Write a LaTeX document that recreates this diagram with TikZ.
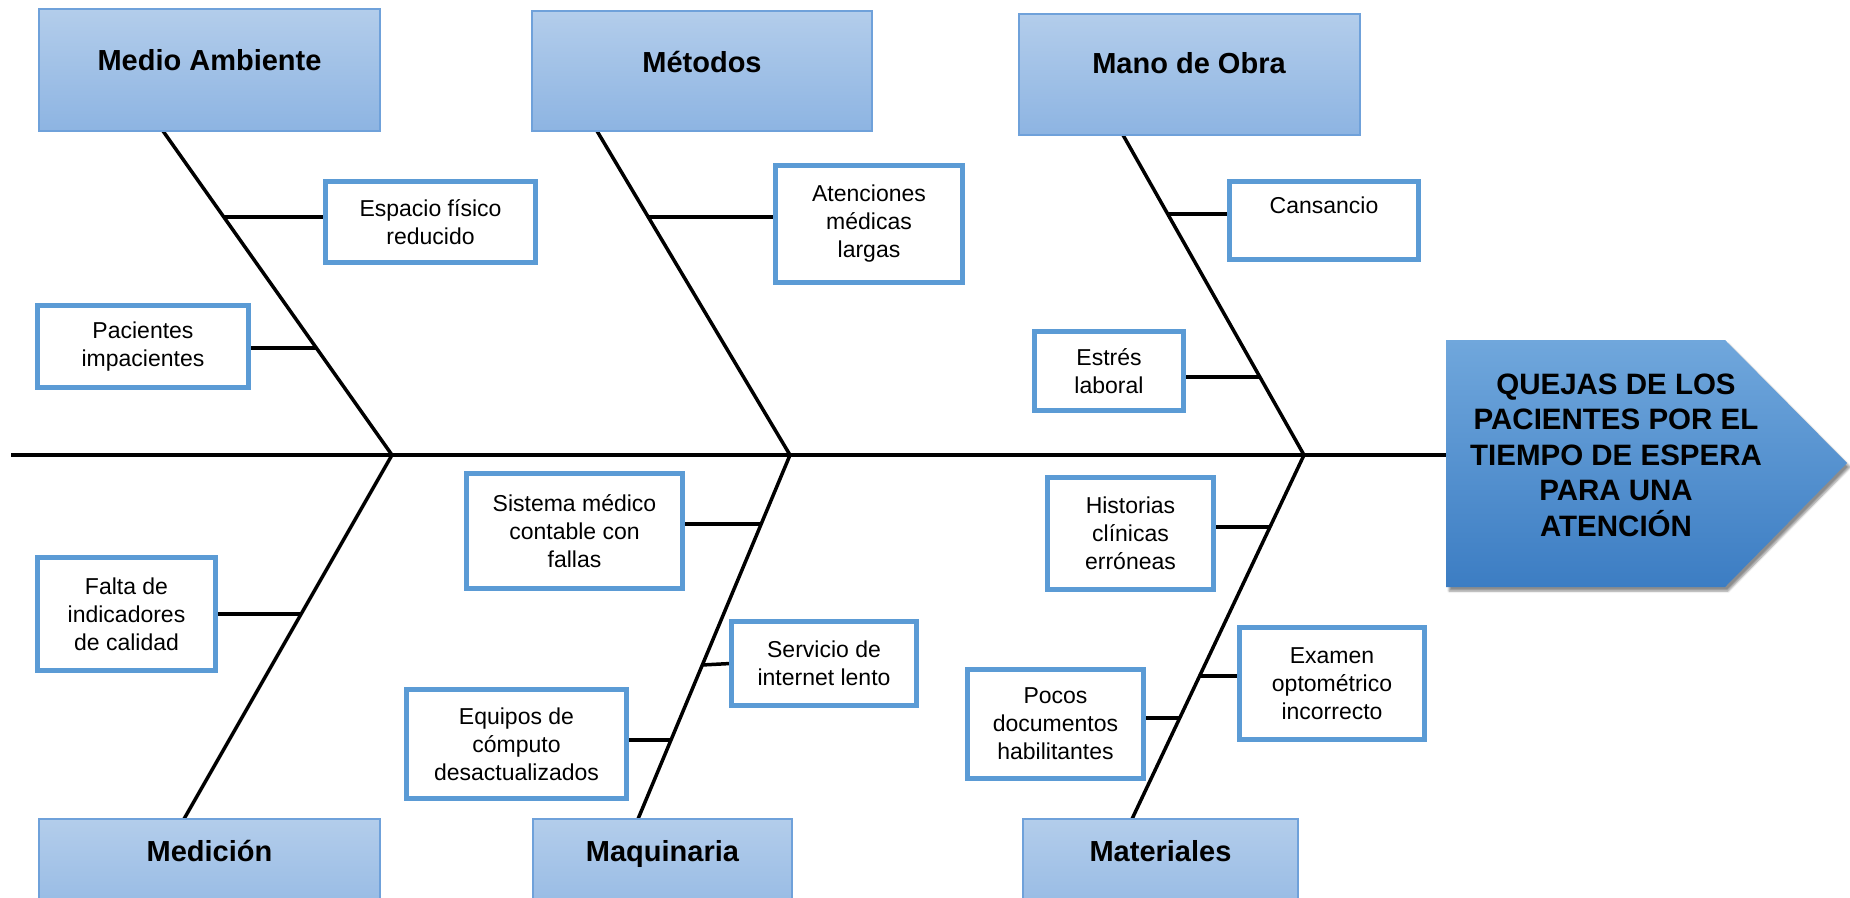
\documentclass[tikz,border=0pt]{standalone}
\usepackage{fontspec}
\setmainfont{Liberation Sans}
\usetikzlibrary{shadows.blur}
\definecolor{boxblue}{HTML}{5B9BD5}
\definecolor{hdrtop}{HTML}{B3CDEB}
\definecolor{hdrbot}{HTML}{8DB4E2}
\definecolor{hdrline}{HTML}{6FA1DA}
\definecolor{headtop}{HTML}{70A7DC}
\definecolor{headbot}{HTML}{3C7DC3}
\begin{document}
\begin{tikzpicture}[x=1pt,y=-1pt,
  bone/.style={line width=3.5pt, black},
  hdr/.style={draw=hdrline, line width=1.5pt, top color=hdrtop, bottom color=hdrbot, inner sep=0pt},
  hdrtxt/.style={font=\bfseries\fontsize{29}{34}\selectfont, inner sep=0pt, text height=20.7pt, text depth=0pt},
  cause/.style={draw=boxblue, line width=3.3pt, fill=white, align=center, inner sep=0pt, font=\fontsize{23}{28}\selectfont},
  headtxt/.style={font=\bfseries\fontsize{29.5}{35.5}\selectfont, align=center, inner sep=0pt}]
\useasboundingbox (0,0) rectangle (1850,897);
\clip (0,0) rectangle (1850,897);

% coordinates of the skeleton
\coordinate (sp0) at (11,455);
\coordinate (headW) at (1446,455);
\coordinate (s1) at (392,455);
\coordinate (s2) at (790,455);
\coordinate (s3) at (1304,455);
\coordinate (t1) at (163,131);
\coordinate (t2) at (597,131);
\coordinate (t3) at (1123,135);
\coordinate (b1) at (184,819);
\coordinate (b2) at (638,819);
\coordinate (b3) at (1132,819);
% branch junctions
\coordinate (jEsp) at (224,217);
\coordinate (jPac) at (316,348);
\coordinate (jAte) at (648,217);
\coordinate (jCan) at (1168,214);
\coordinate (jEst) at (1260,377);
\coordinate (jSis) at (761,524);
\coordinate (jSer) at (702,665);
\coordinate (jEqu) at (671,740);
\coordinate (jFal) at (301,614);
\coordinate (jHis) at (1270,527);
\coordinate (jExa) at (1200,676);
\coordinate (jPoc) at (1180,718);

% cause boxes
\node[cause, minimum width=209pt, minimum height=80pt] (esp) at (430.5,222) {Espacio físico\\reducido};
\node[cause, minimum width=210pt, minimum height=81pt] (pac) at (143,346.5) {Pacientes\\impacientes};
\node[cause, minimum width=186pt, minimum height=116pt] (ate) at (869,224) {Atenciones\\médicas\\largas};
\node[cause, minimum width=188pt, minimum height=77pt] (can) at (1324,220.5) {Cansancio\\[2pt]\mbox{}};
\node[cause, minimum width=148pt, minimum height=77pt] (est) at (1109,371) {Estrés\\laboral};
\node[cause, minimum width=215pt, minimum height=114pt] (sis) at (574.5,531) {Sistema médico\\contable con\\fallas};
\node[cause, minimum width=184pt, minimum height=83pt] (ser) at (824,663.5) {Servicio de\\internet lento};
\node[cause, minimum width=219pt, minimum height=107pt] (equ) at (516.5,744) {Equipos de\\cómputo\\desactualizados};
\node[cause, minimum width=177pt, minimum height=111pt] (fal) at (126.5,614) {Falta de\\indicadores\\de calidad};
\node[cause, minimum width=165pt, minimum height=111pt] (his) at (1130.5,533.5) {Historias\\clínicas\\erróneas};
\node[cause, minimum width=184pt, minimum height=110pt] (exa) at (1332,683.5) {Examen\\optométrico\\incorrecto};
\node[cause, minimum width=175pt, minimum height=107pt] (poc) at (1055.5,724) {Pocos\\documentos\\habilitantes};

% spine and bones
\draw[bone] (sp0) -- (headW);
\draw[bone] (t1) -- (s1) -- (b1);
\draw[bone] (t2) -- (s2) -- (b2);
\draw[bone] (t3) -- (s3) -- (b3);

% branches
\draw[bone] (jEsp) -- (jEsp -| esp.west);
\draw[bone] (jPac) -- (jPac -| pac.east);
\draw[bone] (jAte) -- (jAte -| ate.west);
\draw[bone] (jCan) -- (jCan -| can.west);
\draw[bone] (jEst) -- (jEst -| est.east);
\draw[bone] (jSis) -- (jSis -| sis.east);
\draw[bone] (jSer) -- (ser.west);
\draw[bone] (jEqu) -- (jEqu -| equ.east);
\draw[bone] (jFal) -- (jFal -| fal.east);
\draw[bone] (jHis) -- (jHis -| his.east);
\draw[bone] (jExa) -- (jExa -| exa.west);
\draw[bone] (jPoc) -- (jPoc -| poc.east);

% redraw cause box borders on top of the branch ends
\foreach \n in {esp,pac,ate,can,est,sis,ser,equ,fal,his,exa,poc}{
  \draw[boxblue, line width=3.3pt] (\n.south west) rectangle (\n.north east);
}

% category headers
\node[hdr, minimum width=341pt, minimum height=122pt] (ma) at (209.5,70) {};
\node[hdr, minimum width=340pt, minimum height=120pt] (met) at (702,71) {};
\node[hdr, minimum width=341pt, minimum height=121pt] (mo) at (1189.5,74.5) {};
\node[hdr, minimum width=341pt, minimum height=122pt] (med) at (209.5,880) {};
\node[hdr, minimum width=259pt, minimum height=122pt] (maq) at (662.5,880) {};
\node[hdr, minimum width=275pt, minimum height=122pt] (mat) at (1160.5,880) {};
\node[hdrtxt] (maL) at (209.5,60) {Medio Ambiente};
\node[hdrtxt] (metL) at (702,62) {Métodos};
\node[hdrtxt] (moL) at (1189,63) {Mano de Obra};
\node[hdrtxt] (medL) at (209.5,851) {Medición};
\node[hdrtxt] (maqL) at (662.5,851) {Maquinaria};
\node[hdrtxt] (matL) at (1160.5,851) {Materiales};

% head
\path[top color=headtop, bottom color=headbot,
      blur shadow={shadow xshift=3pt, shadow yshift=-4pt, shadow blur steps=6, shadow opacity=45}]
  (1446,340) -- (1725,340) -- (1847,463) -- (1725,587) -- (1446,587) -- cycle;
\node[headtxt] (head) at (1616,455) {QUEJAS DE LOS\\PACIENTES POR EL\\TIEMPO DE ESPERA\\PARA UNA\\ATENCIÓN};
\end{tikzpicture}
\end{document}
